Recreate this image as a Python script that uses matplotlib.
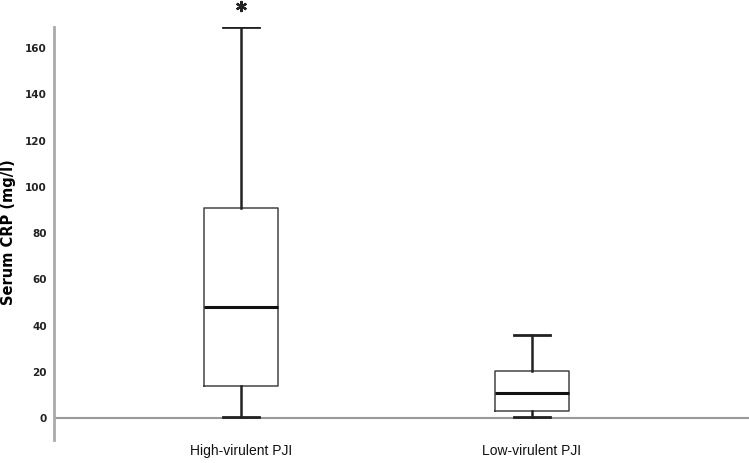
import matplotlib
matplotlib.use("Agg")
import matplotlib.pyplot as plt

categories = ["High-virulent PJI", "Low-virulent PJI"]
q1 = [13.8, 3.2]
median = [48.0, 10.9]
q3 = [90.8, 20.3]
whisker_low = [0.4, 0.3]
whisker_high = [169.0, 35.9]
outliers = [[178.3], []]
yticks = [0, 20, 40, 60, 80, 100, 120, 140, 160]

W, H = 749, 463
fig = plt.figure(figsize=(W / 100, H / 100), dpi=100)
ax = fig.add_axes([54 / W, (H - 440) / H, (W - 54) / W, (440 - 27) / H])

stats = []
for i, c in enumerate(categories):
    stats.append(dict(label=c, q1=q1[i], med=median[i], q3=q3[i],
                      whislo=whisker_low[i], whishi=whisker_high[i], fliers=[]))

ax.bxp(stats, positions=[1, 2], widths=0.254, showfliers=False,
       boxprops=dict(color="#444444", linewidth=1.1),
       medianprops=dict(color="#111111", linewidth=2.2),
       whiskerprops=dict(color="#222222", linewidth=1.8),
       capprops=dict(color="#222222", linewidth=2.0),
       capwidths=0.124)

for i, outs in enumerate(outliers):
    if outs:
        ax.plot([i + 1] * len(outs), outs, linestyle="none", marker=(6, 2, 0),
                markersize=8, markeredgewidth=1.6, color="#222222", clip_on=False)

ax.set_xlim(0.357, 2.746)
ax.set_ylim(-9.5, 169.1)
ax.axhline(0, color="#999999", linewidth=1.5, zorder=0)

for s in ["top", "right", "bottom"]:
    ax.spines[s].set_visible(False)
ax.spines["left"].set_color("#aaaaaa")
ax.spines["left"].set_linewidth(2)

ax.set_yticks(yticks)
ax.set_yticklabels([str(t) for t in yticks], fontsize=7.5, fontweight="bold",
                   family="DejaVu Sans", color="#222222")
ax.tick_params(axis="y", length=0, pad=5)
ax.set_xticks([1, 2])
ax.set_xticklabels(categories, fontsize=10, family="Liberation Sans", color="#111111")
ax.tick_params(axis="x", length=0, pad=3)

fig.text(8.5 / W, 1 - 232 / H, "Serum CRP (mg/l)", rotation=90, ha="center",
         va="center", fontsize=10.5, fontweight="bold", family="DejaVu Sans")

fig.savefig("out.png", dpi=100)
